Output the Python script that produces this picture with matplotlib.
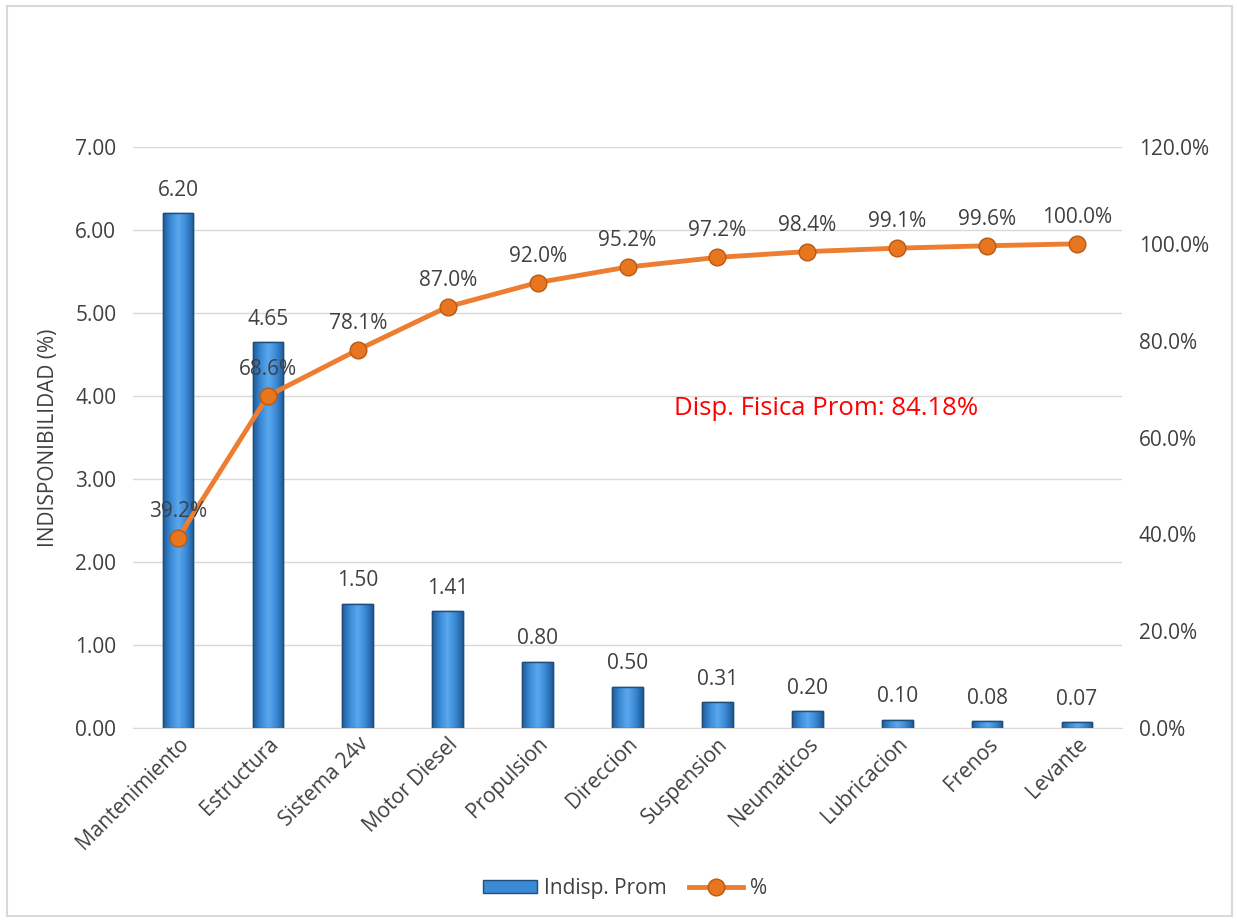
import matplotlib
matplotlib.use("Agg")
import matplotlib.pyplot as plt
import numpy as np
from matplotlib.patches import Rectangle
from matplotlib.lines import Line2D
from matplotlib.colors import LinearSegmentedColormap

categories = ["Mantenimiento", "Estructura", "Sistema 24v", "Motor Diesel", "Propulsion",
              "Direccion", "Suspension", "Neumaticos", "Lubricacion", "Frenos", "Levante"]
indisp = [6.20, 4.65, 1.50, 1.41, 0.80, 0.50, 0.31, 0.20, 0.10, 0.08, 0.07]
cum_pct = [39.2, 68.6, 78.1, 87.0, 92.0, 95.2, 97.2, 98.4, 99.1, 99.6, 100.0]
left_ticks = [0, 1, 2, 3, 4, 5, 6, 7]
right_ticks = [0, 20, 40, 60, 80, 100, 120]
note = "Disp. Fisica Prom: 84.18%"

plt.rcParams['font.family'] = ['Open Sans', 'DejaVu Sans']
txt = "#404040"
fs = 15

fig = plt.figure(figsize=(12.37, 9.22), dpi=100)
fig.patches.append(Rectangle((7 / 1237, 6 / 922), 1225 / 1237, 910 / 922,
                             transform=fig.transFigure, fill=False,
                             edgecolor="#d9d9d9", linewidth=1.5))

ax = fig.add_axes([133 / 1237, 1 - 728 / 922, 989 / 1237, 581 / 922])
x = np.arange(len(categories))
ax.set_xlim(-0.5, len(categories) - 0.5)
ax.set_ylim(0, 7)
ax.set_yticks(left_ticks)
ax.set_yticklabels([f"{v:.2f}" for v in left_ticks], fontsize=fs, color=txt)
ax.tick_params(axis="y", length=0, pad=12)
ax.tick_params(axis="x", length=0, pad=4)
ax.grid(axis="y", color="#d9d9d9", linewidth=1)
ax.set_axisbelow(True)
for s in ["top", "right", "left"]:
    ax.spines[s].set_visible(False)
ax.spines["bottom"].set_color("#d9d9d9")
ax.set_ylabel("INDISPONIBILIDAD (%)", fontsize=fs, color=txt, labelpad=12)
ax.set_xticks(x)
ax.set_xticklabels(categories, rotation=45, ha="right", rotation_mode="anchor",
                   fontsize=fs, color=txt)

# bars with horizontal shading
cmap = LinearSegmentedColormap.from_list("barshade",
                                         ["#1f5c9a", "#3b8ad6", "#5aa8ee", "#3b8ad6", "#1f5c9a"])
grad = np.linspace(0, 1, 64).reshape(1, -1)
w = 0.34
bars = ax.bar(x, indisp, width=w, color="#3b8ad6", edgecolor="#1f4e79",
              linewidth=1, zorder=2, label="Indisp. Prom")
for b in bars:
    x0, y0 = b.get_x(), b.get_y()
    bw, bh = b.get_width(), b.get_height()
    im = ax.imshow(grad, cmap=cmap, aspect="auto", extent=[x0, x0 + bw, y0, y0 + bh],
                   zorder=2.1, interpolation="bilinear")
    im.set_clip_path(b)
    ax.add_patch(Rectangle((x0, y0), bw, bh, fill=False, edgecolor="#1f4e79",
                           linewidth=1, zorder=2.2))
for xi, v in zip(x, indisp):
    ax.text(xi, v + 0.15, f"{v:.2f}", ha="center", va="bottom", fontsize=fs, color=txt, zorder=5)
ax.set_xlim(-0.5, len(categories) - 0.5)
ax.set_ylim(0, 7)

ax2 = ax.twinx()
ax2.set_ylim(0, 120)
ax2.set_yticks(right_ticks)
ax2.set_yticklabels([f"{v:.1f}%" for v in right_ticks], fontsize=fs, color=txt)
ax2.tick_params(axis="y", length=0, pad=12)
for s in ax2.spines.values():
    s.set_visible(False)
ax2.plot(x, cum_pct, color="#ed7d31", linewidth=3.5, marker="o", markersize=12,
         markerfacecolor="#e8751f", markeredgecolor="#b85a12", markeredgewidth=1,
         zorder=4, label="%")
for xi, v in zip(x, cum_pct):
    ax2.text(xi, v + 3.3, f"{v:.1f}%", ha="center", va="bottom", fontsize=fs, color=txt, zorder=5)

fig.text(826 / 1237, 1 - 408 / 922, note, fontsize=18.5, color="#ff0000",
         ha="center", va="center")

handles = [Rectangle((0, 0), 1, 1, facecolor="#3b8ad6", edgecolor="#1f4e79"),
           Line2D([0], [0], color="#ed7d31", linewidth=3.5, marker="o", markersize=12,
                  markerfacecolor="#e8751f", markeredgecolor="#b85a12")]
fig.legend(handles, ["Indisp. Prom", "%"], loc="center", bbox_to_anchor=(625 / 1237, 1 - 888 / 922),
           ncol=2, frameon=False, fontsize=fs, handlelength=2.6, handleheight=0.6,
           columnspacing=1.1, handletextpad=0.3, labelcolor=txt)

fig.savefig("out.png", dpi=100)
